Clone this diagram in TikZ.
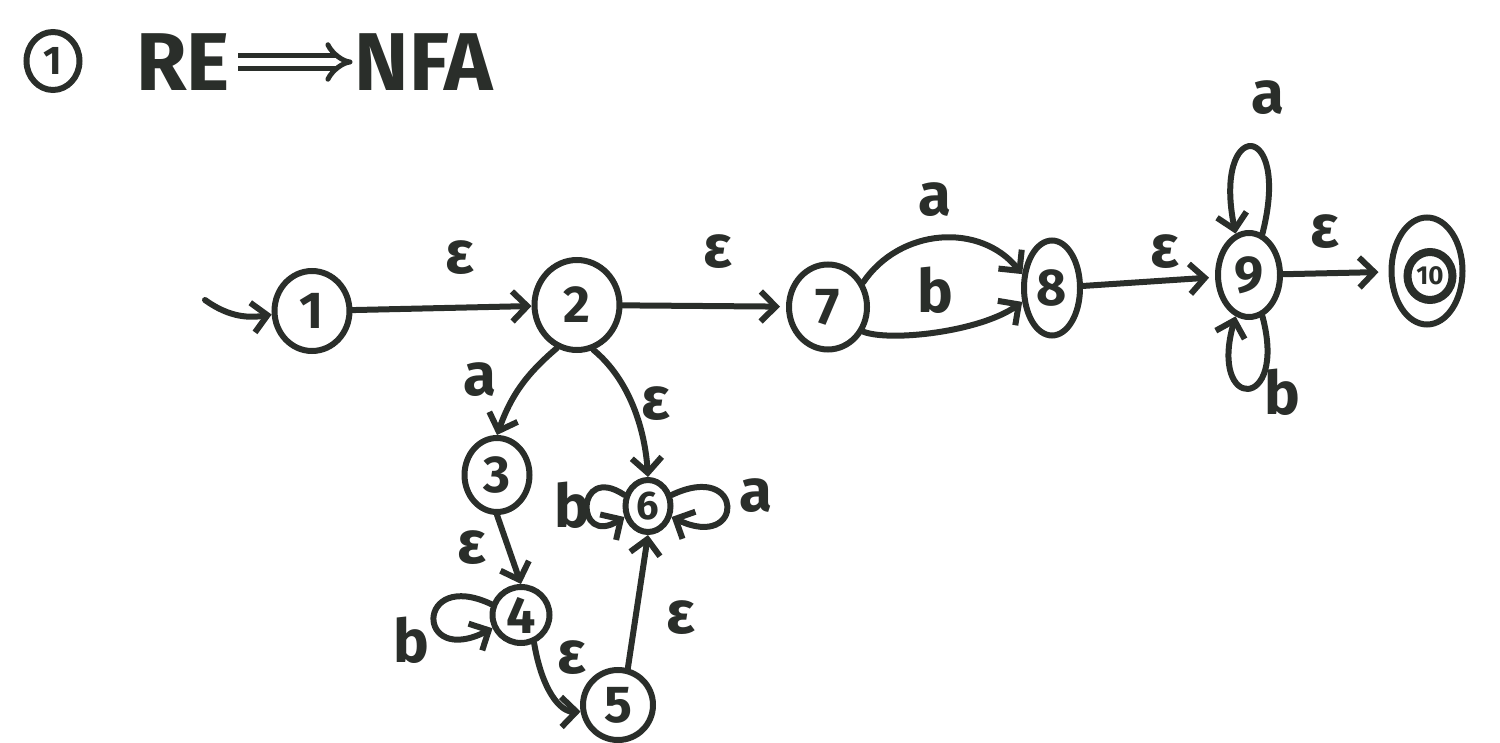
\documentclass[tikz,border=0pt]{standalone}
\usepackage{fontspec}
\setmainfont{Fira Sans}
\usetikzlibrary{arrows.meta,shapes.geometric}
\definecolor{ink}{HTML}{2A2E2A}
\begin{document}
\begin{tikzpicture}[x=1pt,y=-1pt,
  state/.style={draw=ink, line width=6pt, ellipse, inner sep=0pt, text=ink,
    font=\fontsize{52}{52}\selectfont\bfseries},
  lbl/.style={text=ink, inner sep=0pt, font=\fontsize{60}{60}\selectfont\bfseries},
  arr/.style={draw=ink, line width=6pt, line cap=round,
    -{Straight Barb[length=15pt,width=30pt,line width=6pt]}},
  title/.style={text=ink, inner sep=0pt, font=\fontsize{82}{82}\selectfont\bfseries}]
\useasboundingbox (0,0) rectangle (1500,743);

% title
\node[state, minimum width=53pt, minimum height=58pt, font=\fontsize{40}{40}\selectfont\bfseries] (t1) at (53,61) {1};
\node[title] (re) at (183,62) {RE};
\node[title] (nfa) at (424,62) {NFA};
\draw[draw=ink, line width=5pt, double=white, double distance=8pt, -{Implies}] ([xshift=8pt]re.east) -- ([xshift=-2pt]nfa.west);

% states
\node[state, minimum width=75pt, minimum height=80pt] (n1) at (312,311) {1};
\node[state, minimum width=85pt, minimum height=90pt] (n2) at (577,305) {2};
\node[state, minimum width=78pt, minimum height=85pt] (n7) at (828,307) {7};
\node[state, minimum width=56pt, minimum height=95pt] (n8) at (1052,288) {8};
\node[state, minimum width=62pt, minimum height=84pt] (n9) at (1249,275) {9};
\node[state, minimum width=71pt, minimum height=107pt] (n10) at (1427,271) {};
\node[state, line width=8pt, minimum width=45pt, minimum height=48pt, font=\fontsize{26}{26}\selectfont\bfseries] (n10i) at (1430,276) {10};
\node[state, minimum width=65pt, minimum height=74pt] (n3) at (497,475) {3};
\node[state, minimum width=57pt, minimum height=56pt] (n4) at (521,615) {4};
\node[state, minimum width=70pt, minimum height=70pt] (n5) at (618,705) {5};
\node[state, minimum width=45pt, minimum height=52pt, font=\fontsize{40}{40}\selectfont\bfseries] (n6) at (648,506) {6};

% start arrow
\coordinate (s) at (205,300);
\draw[arr] (s) .. controls (230,318) and (250,318) .. (n1.185);

% main line
\draw[arr] (n1) -- (n2);
\node[lbl] (e12) at (460,258) {ε};
\draw[arr, shorten >=6pt] (n2) -- (n7);
\node[lbl] (e27) at (718,252) {ε};
\draw[arr] (n7.35) .. controls (900,228) and (980,222) .. (n8.155);
\node[lbl] (l78a) at (935,200) {a};
\draw[arr] (n7.-35) .. controls (890,342) and (980,332) .. (n8.205);
\node[lbl] (l78b) at (935,290) {b};
\draw[arr, shorten >=6pt] (n8) -- (n9);
\node[lbl] (e89) at (1165,252) {ε};
\draw[arr, shorten >=10pt] (n9) -- (n10);
\node[lbl] (e910) at (1325,232) {ε};

% loops on 9
\draw[arr] (n9.72) .. controls (1292,118) and (1212,118) .. (n9.108);
\node[lbl] (l9a) at (1268,98) {a};
\draw[arr] (n9.-72) .. controls (1288,412) and (1208,412) .. (n9.-108);
\node[lbl] (l9b) at (1282,392) {b};

% lower branch
\draw[arr] (n2.245) to[bend right=15] (n3.north);
\node[lbl] (l23) at (480,380) {a};
\draw[arr] (n2.290) .. controls (630,380) and (645,430) .. (n6.north);
\node[lbl] (e26) at (656,404) {ε};
\draw[arr] (n3.south) -- (n4.north);
\node[lbl] (e34) at (472,548) {ε};
\draw[arr] (n4.160) .. controls (415,568) and (415,668) .. (n4.205);
\node[lbl] (l4b) at (411,640) {b};
\draw[arr] (n4.-65) .. controls (542,690) and (560,712) .. (n5.190);
\node[lbl] (e45) at (572,658) {ε};
\draw[arr] (n5.75) -- (n6.south);
\node[lbl] (e56) at (681,618) {ε};

% loops on 6
\draw[arr] (n6.155) .. controls (575,462) and (575,548) .. (n6.205);
\node[lbl] (l6b) at (572,505) {b};
\draw[arr] (n6.25) .. controls (745,460) and (745,552) .. (n6.-25);
\node[lbl] (l6a) at (756,496) {a};
\end{tikzpicture}
\end{document}
